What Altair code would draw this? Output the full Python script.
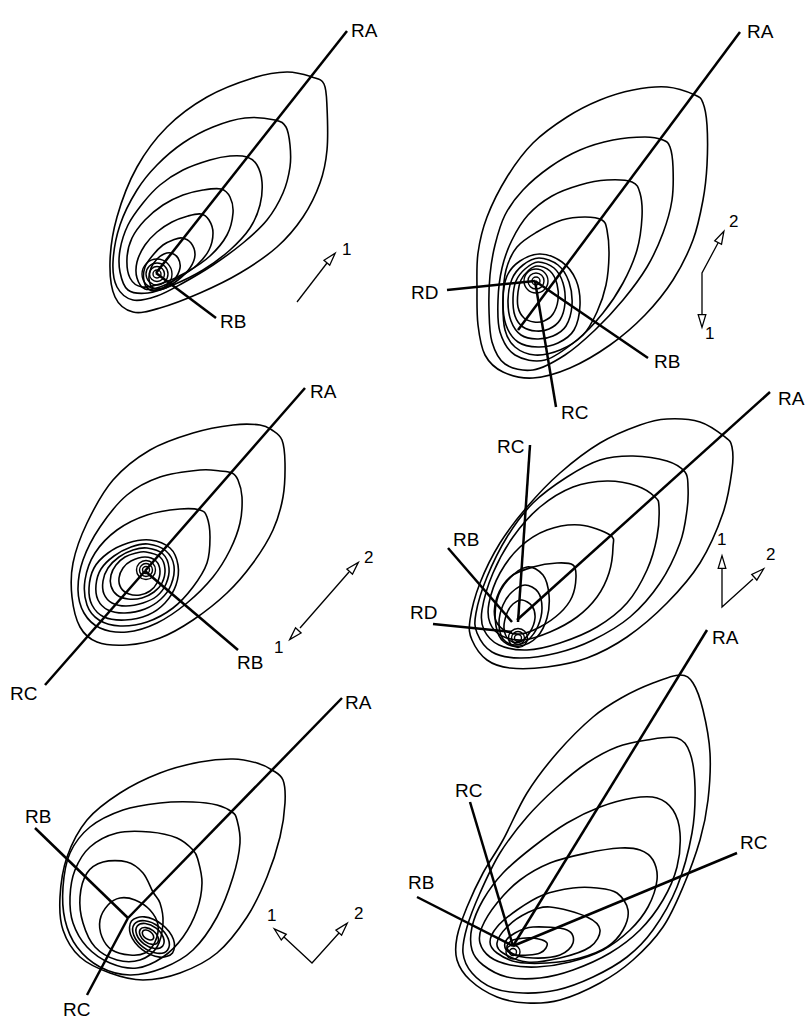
import altair as alt
import pandas as pd

W, H = 809, 1021

# ---------------------------------------------------------------------------
# Panel 1 (top left)
P1_CONTOURS = [
    [(312,77),(324,84),(327,107),(327,150),(320,183),(303,217),(277,247),(240,273),(200,293),(160,308),(133,312),(115,297),(110,262),(117,217),(137,167),(167,127),(207,97),(253,78),(287,72)],
    [(275,120),(286,127),(290,145),(290,167),(283,193),(267,220),(243,243),(213,265),(183,283),(157,296),(133,300),(117,287),(113,262),(120,225),(137,190),(157,165),(183,143),(213,127),(245,118)],
    [(247,157),(257,165),(262,182),(260,205),(250,228),(230,250),(203,270),(173,285),(148,293),(128,290),(120,272),(120,250),(128,225),(143,203),(160,185),(183,170),(210,160),(230,156)],
    [(221,189),(230,197),(233,213),(227,235),(210,256),(187,272),(163,283),(142,287),(130,278),(127,258),(132,238),(145,220),(163,205),(183,195),(203,190)],
    [(201,214),(209,220),(213,233),(209,250),(197,265),(180,277),(160,287),(145,289),(137,278),(137,262),(145,245),(157,232),(172,222),(188,216)],
    [(182,238),(191,243),(195,255),(190,268),(178,280),(163,289),(150,290),(144,281),(145,267),(153,255),(163,245),(173,240)],
    [(171,253),(178,258),(180,268),(174,280),(163,288),(153,288),(149,279),(151,268),(157,259),(164,254)],
]
P1_RINGS = [(157,274,15),(157,274,11),(157,274,7.5),(157,274,4)]
P1_RAYS = [(156,273,347,31),(156,273,216,318)]
P1_LABELS = [("RA",351,31),("RB",220,322)]

# Panel 2 (top right)
P2_CONTOURS = [
    [(695,95),(703,103),(707,125),(707,165),(703,200),(693,240),(673,280),(645,315),(610,345),(570,368),(533,378),(503,372),(485,355),(478,325),(477,290),(478,253),(487,217),(507,177),(533,143),(567,117),(600,100),(633,90),(667,87)],
    [(663,140),(670,147),(673,167),(672,200),(663,233),(647,267),(623,300),(595,330),(565,355),(533,370),(505,364),(492,342),(489,310),(490,275),(495,245),(505,215),(523,190),(550,167),(580,150),(613,140),(645,137)],
    [(632,182),(640,193),(642,217),(637,250),(623,283),(603,313),(577,340),(545,360),(515,355),(500,332),(498,300),(502,268),(512,240),(528,215),(552,196),(580,185),(607,180)],
    [(602,220),(607,230),(609,255),(606,285),(597,312),(583,335),(560,350),(535,355),(515,347),(505,330),(503,300),(506,270),(517,247),(537,232),(562,220),(585,217)],
    [(540,254),(562,262),(576,280),(580,305),(574,330),(558,343),(538,347),(518,342),(506,325),(503,300),(507,276),(520,261)],
    [(539,258),(558,265),(569,282),(572,305),(566,326),(553,336),(537,339),(521,335),(511,321),(508,300),(512,279),(523,265)],
    [(538,262),(554,268),(563,283),(565,303),(560,320),(549,329),(536,331),(523,327),(515,316),(513,298),(516,281),(525,269)],
    [(537,266),(550,271),(557,284),(558,300),(553,314),(544,321),(534,322),(524,318),(518,307),(518,292),(521,280),(528,271)],
]
P2_RINGS = [(536,281,12),(536,281,8),(536,281,4)]
P2_RAYS = [(518,330,740,32),(535,281,648,358),(535,281,556,407),(535,281,447,290)]
P2_LABELS = [("RA",747,32),("RD",411,293),("RB",654,362),("RC",561,413)]

# Panel 3 (middle left)
P3_CONTOURS = [
    [(272,430),(282,440),(285,463),(283,497),(273,530),(253,563),(227,593),(193,620),(160,638),(127,645),(97,642),(80,627),(72,597),(73,563),(87,523),(113,480),(150,450),(193,433),(233,425),(260,425)],
    [(232,473),(238,480),(242,497),(240,523),(230,550),(213,577),(187,603),(157,623),(127,632),(100,628),(84,613),(78,590),(83,560),(100,527),(127,495),(160,477),(200,470),(220,471)],
    [(200,510),(207,517),(210,537),(207,563),(193,587),(173,608),(147,622),(120,626),(99,620),(87,605),(85,580),(95,553),(117,530),(147,515),(180,509)],
    [(150,540),(170,548),(178,565),(176,585),(165,603),(148,615),(125,620),(104,617),(92,605),(89,588),(94,568),(108,553),(128,543)],
    [(148,544),(166,551),(174,566),(171,585),(161,599),(145,609),(125,613),(108,610),(98,600),(96,585),(101,569),(114,556),(131,547)],
    [(147,548),(163,554),(169,568),(166,584),(157,596),(143,603),(126,606),(112,603),(104,594),(103,581),(108,568),(119,557),(133,550)],
    [(146,552),(160,557),(165,569),(162,583),(154,592),(142,598),(128,599),(117,595),(111,586),(111,575),(116,565),(125,557),(136,553)],
    [(145,557),(156,561),(160,571),(157,583),(150,591),(140,595),(129,594),(121,588),(119,578),(123,568),(131,561)],
]
P3_RINGS = [(146,570,9.5),(146,570,6.5),(146,570,3.5)]
P3_RAYS = [(145,571,305,388),(145,571,45,685),(145,571,238,650)]
P3_LABELS = [("RA",310,392),("RB",237,663),("RC",10,694)]

# Panel 4 (middle right)
P4_CONTOURS = [
    [(725,437),(732,447),(732,470),(723,513),(700,563),(667,603),(627,637),(587,658),(547,667),(510,668),(487,660),(472,640),(470,620),(480,583),(500,543),(527,507),(560,473),(600,443),(640,425),(667,419),(700,422)],
    [(685,472),(688,487),(687,510),(680,543),(660,583),(630,617),(593,640),(557,653),(520,658),(492,652),(477,633),(476,613),(487,577),(507,537),(533,503),(567,477),(600,460),(633,456),(667,461)],
    [(655,497),(659,507),(657,537),(647,570),(627,603),(597,627),(560,643),(527,650),(499,645),(484,630),(482,610),(493,573),(513,537),(540,507),(573,487),(607,481),(637,486)],
    [(610,535),(613,547),(609,573),(597,597),(577,617),(550,632),(523,640),(502,636),(490,623),(489,603),(500,573),(520,547),(547,530),(580,525)],
    [(573,565),(576,577),(572,597),(560,613),(540,627),(520,634),(504,630),(495,618),(497,597),(510,577),(533,567),(557,563)],
    [(527,567),(543,575),(549,595),(547,618),(537,637),(520,646),(504,642),(496,626),(497,600),(508,580)],
    [(525,585),(538,592),(542,608),(538,626),(528,640),(515,645),(503,639),(499,623),(503,605),(512,592)],
    [(522,600),(532,606),(535,618),(530,632),(520,642),(509,640),(504,628),(507,613),(513,604)],
]
P4_RINGS = [(518,638,9.5),(518,638,6.5),(518,638,3.5)]
P4_RAYS = [(517,620,770,392),(518,622,530,445),(512,622,448,548),(512,632,433,624)]
P4_LABELS = [("RA",778,399),("RC",497,447),("RB",453,540),("RD",410,613)]

# Panel 5 (bottom left)
P5_CONTOURS = [
    [(272,770),(283,780),(285,803),(280,837),(267,877),(247,917),(217,953),(180,973),(143,980),(110,973),(80,957),(63,930),(60,897),(67,857),(87,820),(120,793),(160,773),(200,762),(233,759),(257,763)],
    [(232,812),(237,820),(240,843),(233,877),(217,917),(193,950),(163,968),(130,975),(100,967),(77,947),(65,920),(63,887),(70,853),(90,827),(123,810),(160,803),(193,802),(217,805)],
    [(193,850),(198,860),(202,883),(197,910),(183,937),(163,957),(137,968),(110,963),(87,947),(73,923),(70,897),(75,870),(90,847),(117,833),(150,832),(177,838)],
    [(153,892),(160,903),(163,923),(157,947),(140,960),(117,960),(95,947),(83,923),(80,897),(87,873),(103,862),(127,862),(143,873)],
    [(135,900),(150,910),(158,925),(155,942),(145,953),(130,955),(112,950),(102,937),(100,920),(108,905),(120,898)],
    [(172.5,952.9),(159.6,957.1),(142.2,949.6),(130.6,934.7),(131.5,921.1),(144.4,916.9),(161.8,924.4),(173.4,939.3)],
    [(167.6,949.9),(157.2,953.3),(143.1,947.2),(133.7,935.1),(134.4,924.1),(144.8,920.7),(158.9,926.8),(168.3,938.9)],
    [(162.7,945.9),(154.7,948.5),(143.9,943.8),(136.7,934.6),(137.3,926.1),(145.3,923.5),(156.1,928.2),(163.3,937.4)],
    [(157.6,942.7),(152.2,944.4),(144.9,941.3),(140.0,935.0),(140.4,929.3),(145.8,927.6),(153.1,930.7),(158.0,937.0)],
    [(153.1,939.0),(149.9,940.0),(145.5,938.2),(142.6,934.4),(142.9,931.0),(146.1,930.0),(150.5,931.8),(153.4,935.6)],
]
P5_RINGS = []
P5_RAYS = [(128,918,342,698),(128,918,35,828),(128,918,87,995)]
P5_LABELS = [("RA",345,703),("RB",25,817),("RC",63,1010)]

# Panel 6 (bottom right)
P6_CONTOURS = [
    [(680,675),(693,683),(703,710),(710,753),(708,800),(700,840),(683,887),(663,927),(633,960),(600,983),(560,1000),(527,1003),(497,997),(470,980),(457,960),(457,937),(467,907),(483,873),(503,840),(527,793),(557,753),(593,717),(623,697),(653,683)],
    [(677,738),(690,753),(695,787),(692,833),(677,887),(653,930),(627,957),(593,977),(557,990),(523,993),(493,988),(472,973),(463,953),(467,927),(480,893),(500,853),(527,817),(557,787),(587,763),(617,747),(647,740)],
    [(657,798),(673,810),(680,833),(677,867),(663,900),(640,930),(610,953),(573,970),(540,978),(507,977),(483,965),(472,950),(472,927),(483,900),(503,873),(533,847),(567,823),(600,807),(633,798)],
    [(640,850),(653,860),(657,880),(648,907),(630,930),(603,950),(570,962),(537,967),(510,965),(490,957),(480,943),(482,927),(497,903),(520,880),(550,863),(587,853),(620,848)],
    [(597,888),(617,893),(628,910),(623,930),(607,947),(580,958),(547,963),(517,962),(497,953),(490,942),(497,927),(517,910),(543,895),(573,888)],
    [(550,907),(587,917),(600,930),(590,947),(560,958),(527,962),(503,953),(497,943),(507,927),(527,913)],
    [(533,927),(567,930),(573,943),(560,955),(533,958),(510,953),(505,943),(515,933)],
    [(547,943),(540,953),(517,955),(507,948),(513,940),(533,938)],
]
P6_RINGS = [(513,952,7),(513,952,3.5)]
P6_RAYS = [(513,946,707,630),(513,946,470,802),(513,946,737,853),(513,946,417,897)]
P6_LABELS = [("RA",712,638),("RC",455,791),("RC",740,843),("RB",408,883)]

# Load-direction glyphs: shafts, open heads (x, y, rotation) and numbers
ARROW_SHAFTS = [
    [(297,302),(327,263)],
    [(702,315),(702,273),(718,243)],
    [(300,628),(349,572)],
    [(722,568),(722,607),(753,579)],
    [(284,937),(312,963),(339,933)],
]
ARROW_HEADS = [
    (331,258,41), (721,237,27), (702,321,180),
    (354,567,43), (294,635,223),
    (722,562,0), (759,573,48),
    (279,933,311), (343,928,42),
]
ARROW_NUMS = [
    ("1",342,250), ("2",729,222), ("1",705,334),
    ("1",274,648), ("2",364,558),
    ("1",717,540), ("2",766,555),
    ("1",267,916), ("2",354,914),
]

PANELS = [
    (P1_CONTOURS, P1_RINGS, P1_RAYS, P1_LABELS),
    (P2_CONTOURS, P2_RINGS, P2_RAYS, P2_LABELS),
    (P3_CONTOURS, P3_RINGS, P3_RAYS, P3_LABELS),
    (P4_CONTOURS, P4_RINGS, P4_RAYS, P4_LABELS),
    (P5_CONTOURS, P5_RINGS, P5_RAYS, P5_LABELS),
    (P6_CONTOURS, P6_RINGS, P6_RAYS, P6_LABELS),
]

# ---------------------------------------------------------------------------
contour_rows, ring_rows, ray_rows, label_rows = [], [], [], []
for p, (contours, rings, rays, labels) in enumerate(PANELS):
    for c, pts in enumerate(contours):
        for k, (x, y) in enumerate(pts):
            contour_rows.append({"cid": f"{p}-{c}", "k": k, "x": x, "y": y})
    for (x, y, r) in rings:
        ring_rows.append({"x": x, "y": y, "s": (2 * r) ** 2})
    for (x, y, x2, y2) in rays:
        ray_rows.append({"x": x, "y": y, "x2": x2, "y2": y2})
    for (t, x, y) in labels:
        label_rows.append({"t": t, "x": x, "y": y})

shaft_rows = [{"sid": i, "k": k, "x": x, "y": y}
              for i, pts in enumerate(ARROW_SHAFTS) for k, (x, y) in enumerate(pts)]
head_rows = [{"x": x, "y": y, "a": a} for (x, y, a) in ARROW_HEADS]
num_rows = [{"t": t, "x": x, "y": y} for (t, x, y) in ARROW_NUMS]

X = alt.X("x:Q", scale=alt.Scale(domain=[0, W], nice=False, zero=False), axis=None)
Y = alt.Y("y:Q", scale=alt.Scale(domain=[0, H], nice=False, zero=False, reverse=True), axis=None)

contours = alt.Chart(pd.DataFrame(contour_rows)).mark_line(
    interpolate="cardinal-closed", color="black", strokeWidth=1.6
).encode(x=X, y=Y, detail="cid:N", order="k:Q")

rings = alt.Chart(pd.DataFrame(ring_rows)).mark_point(
    shape="circle", filled=False, color="black", strokeWidth=1.4, opacity=1
).encode(x=X, y=Y, size=alt.Size("s:Q", scale=None))

rays = alt.Chart(pd.DataFrame(ray_rows)).mark_rule(
    color="black", strokeWidth=2.5
).encode(x=X, y=Y, x2="x2:Q", y2="y2:Q")

labels = alt.Chart(pd.DataFrame(label_rows)).mark_text(
    align="left", baseline="middle", font="Liberation Sans", fontSize=19, color="black"
).encode(x=X, y=Y, text="t:N")

shafts = alt.Chart(pd.DataFrame(shaft_rows)).mark_line(
    color="black", strokeWidth=1.3
).encode(x=X, y=Y, detail="sid:N", order="k:Q")

heads = alt.Chart(pd.DataFrame(head_rows)).mark_point(
    shape="M0,-1L0.6,1L-0.6,1Z", filled=True, fill="white", stroke="black",
    strokeWidth=1.3, size=160, opacity=1
).encode(x=X, y=Y, angle=alt.Angle("a:Q", scale=None))

nums = alt.Chart(pd.DataFrame(num_rows)).mark_text(
    align="left", baseline="middle", font="Liberation Sans", fontSize=17, color="black"
).encode(x=X, y=Y, text="t:N")

chart = alt.layer(contours, rays, rings, shafts, heads, labels, nums).properties(
    width=W, height=H, padding=0, background="white"
).configure_view(stroke=None)

chart.save("out.html", embed_options={"renderer": "svg", "actions": False})
